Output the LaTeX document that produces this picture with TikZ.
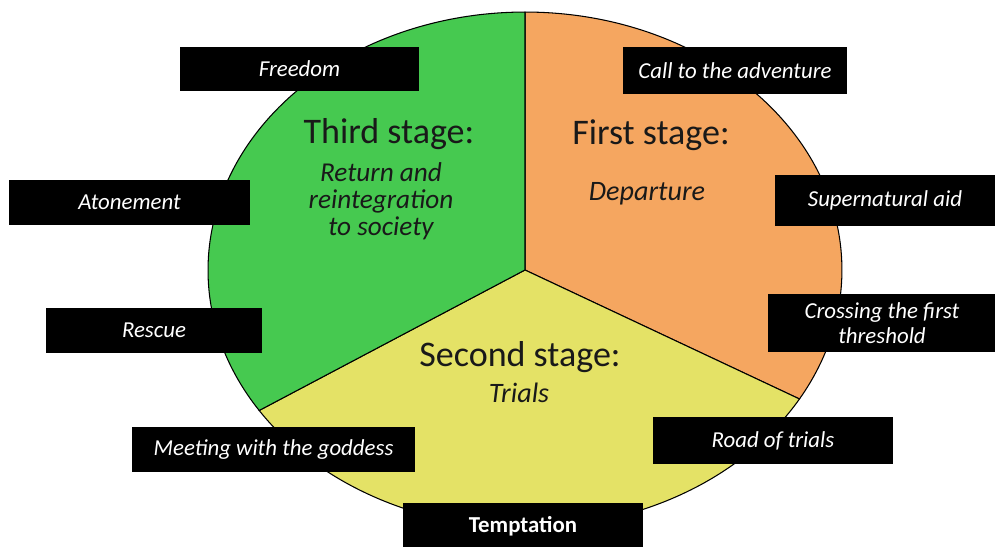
\documentclass[tikz,border=0pt]{standalone}
\usepackage{fontspec}
\setmainfont{Carlito}
\definecolor{stagegreen}{RGB}{70,201,80}
\definecolor{stageorange}{RGB}{245,166,96}
\definecolor{stageyellow}{RGB}{228,226,102}
\begin{document}
\begin{tikzpicture}[x=0.02cm,y=0.02cm,
    stepbox/.style={fill=black,text=white,inner sep=0pt,align=center,
      font=\itshape\fontsize{13}{14}\selectfont},
    stagetitle/.style={text=black!90,font=\fontsize{20.5}{22}\selectfont},
    stagename/.style={text=black!90,align=center,font=\itshape\fontsize{16}{15.5}\selectfont},
    sector/.style={draw=black,line width=0.6pt}]
  \useasboundingbox (0,0) rectangle (995,547);
  \coordinate (centre) at (525,277);
  % the three stages
  \filldraw[sector,fill=stageorange] (centre) -- ++(90:6.34cm and 5.16cm)
    arc[start angle=90,end angle=-30,x radius=6.34cm,y radius=5.16cm] -- cycle;
  \filldraw[sector,fill=stageyellow] (centre) -- ++(-30:6.34cm and 5.16cm)
    arc[start angle=-30,end angle=-147,x radius=6.34cm,y radius=5.16cm] -- cycle;
  \filldraw[sector,fill=stagegreen] (centre) -- ++(213:6.34cm and 5.16cm)
    arc[start angle=213,end angle=90,x radius=6.34cm,y radius=5.16cm] -- cycle;
  \node[stagetitle] (third) at (389,413) {Third stage:};
  \node[stagename,font=\itshape\fontsize{15.5}{15.5}\selectfont] (return) at (381,346) {Return and\\reintegration\\to society};
  \node[stagetitle] (first) at (651,412) {First stage:};
  \node[stagename] (departure) at (647,353) {Departure};
  \node[stagetitle] (second) at (520,190) {Second stage:};
  \node[stagename] (trials) at (519,154) {Trials};
  % the steps
  \node[stepbox,minimum width=4.78cm,minimum height=0.88cm] (freedom) at (299.5,478) {Freedom};
  \node[stepbox,minimum width=4.48cm,minimum height=0.94cm] (call) at (735,476.5) {Call to the adventure};
  \node[stepbox,minimum width=4.4cm,minimum height=1.02cm] (aid) at (885,346.5) {Supernatural aid};
  \node[stepbox,minimum width=4.82cm,minimum height=0.9cm] (atonement) at (129.5,344.5) {Atonement};
  \node[stepbox,minimum width=4.32cm,minimum height=0.9cm] (rescue) at (154,216.5) {Rescue};
  \node[stepbox,minimum width=4.58cm,minimum height=1.16cm] (threshold) at (882,224) {Crossing the first\\threshold};
  \node[stepbox,minimum width=5.66cm,minimum height=0.9cm] (goddess) at (273.5,97.5) {Meeting with the goddess};
  \node[stepbox,minimum width=4.8cm,minimum height=0.94cm] (road) at (773,106.5) {Road of trials};
  \node[stepbox,minimum width=4.8cm,minimum height=0.94cm,font=\bfseries\fontsize{13}{14}\selectfont] (temptation) at (523,20.5) {Temptation};
\end{tikzpicture}
\end{document}
